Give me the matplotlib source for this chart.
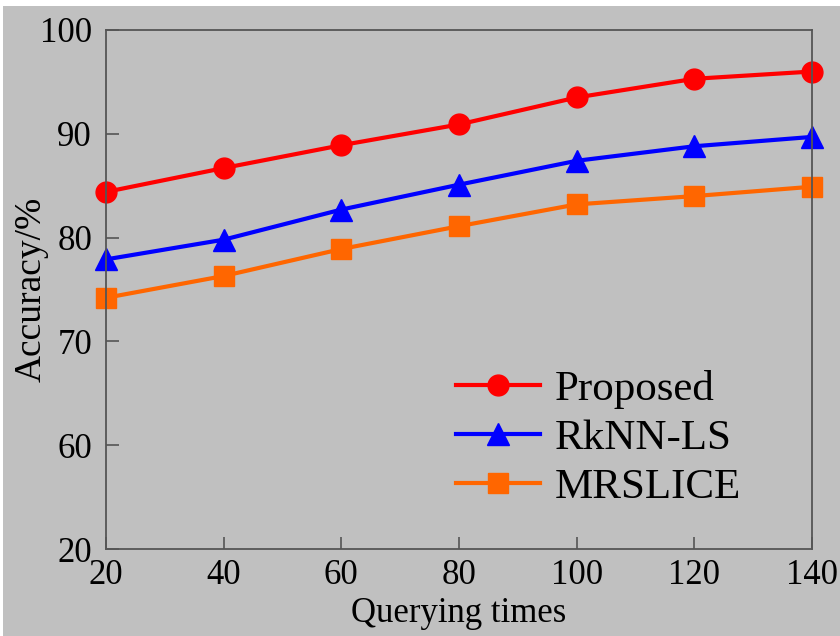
import numpy as np
import matplotlib
matplotlib.use('Agg')
import matplotlib.pyplot as plt
from matplotlib.patches import Rectangle

plt.rcParams['font.family'] = ['Liberation Serif', 'DejaVu Serif']

times = [20, 40, 60, 80, 100, 120, 140]
proposed = [84.4, 86.7, 88.9, 90.9, 93.5, 95.3, 96.0]
rknn_ls = [77.9, 79.8, 82.7, 85.1, 87.4, 88.8, 89.7]
mrslice = [74.2, 76.3, 78.9, 81.1, 83.2, 84.0, 84.9]

yticks = [50, 60, 70, 80, 90, 100]
ytick_labels = ['20', '60', '70', '80', '90', '100']

grey = '#c0c0c0'
fig = plt.figure(figsize=(8.4, 6.36), dpi=100, facecolor='white')
fig.patches.append(Rectangle((0.004, 0), 0.996, 1 - 6 / 636, transform=fig.transFigure,
                             facecolor=grey, edgecolor='none', zorder=-10))
ax = fig.add_axes([106 / 840, 87 / 636, 706 / 840, 519 / 636])
ax.set_facecolor(grey)

ax.plot(times, proposed, '-o', color='#ff0000', lw=3, ms=15, label='Proposed', clip_on=False)
ax.plot(times, rknn_ls, '-^', color='#0000ff', lw=3, ms=16, label='RkNN-LS', clip_on=False)
ax.plot(times, mrslice, '-s', color='#ff6600', lw=3, ms=15, label='MRSLICE', clip_on=False)

ax.set_xlim(20, 140)
ax.set_ylim(50, 100)
ax.set_xticks(times)
ax.set_yticks(yticks)
ax.set_yticklabels(ytick_labels)
ax.tick_params(direction='in', length=9, width=1.2, color='#555555', labelsize=25)
ax.tick_params(axis='y', pad=10)
ax.tick_params(axis='x', pad=7)
for s in ax.spines.values():
    s.set_color('#555555')
    s.set_linewidth(1.3)

ax.set_xlabel('Querying times', fontsize=25, labelpad=4)
ax.set_ylabel('Accuracy/%', fontsize=27, labelpad=-6)

ax.legend(loc='lower right', bbox_to_anchor=(0.93, 0.04), frameon=False, fontsize=31,
          handlelength=1.95, handletextpad=0.35, labelspacing=0.22, borderpad=0)

fig.savefig('out.png', dpi=100, facecolor=fig.get_facecolor())
